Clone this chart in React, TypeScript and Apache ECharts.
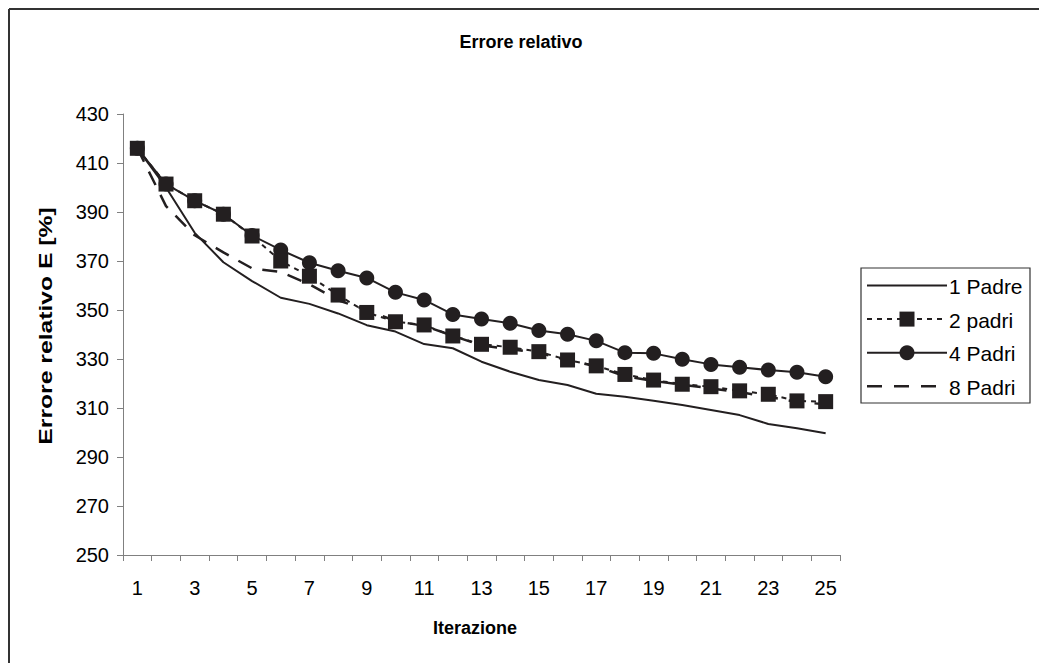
import React, { useEffect, useRef } from "react";
import * as echarts from "echarts";

// Iterations on the x axis
const iterations = Array.from({ length: 25 }, (_, i) => String(i + 1));

// Relative error per iteration, one array per number of parents
const padre1 = [416, 400, 381.5, 369.5, 361.8, 355, 352.5, 348.6, 343.8, 341.2, 336.1, 334.4, 328.9, 324.8, 321.4, 319.4, 315.8, 314.6, 313, 311.2, 309.2, 307.1, 303.5, 301.7, 299.7];
const padri2 = [416, 401.4, 394.6, 389.1, 380.2, 370, 363.8, 356.1, 349, 345.2, 343.9, 339.4, 336, 334.8, 333, 329.6, 327.2, 323.7, 321.4, 319.7, 318.7, 317, 315.6, 312.9, 312.6];
const padri4 = [416, 401.4, 394.6, 389.1, 380.4, 374.5, 369.3, 366, 363.1, 357.2, 354.1, 348.2, 346.3, 344.6, 341.6, 340.1, 337.4, 332.6, 332.3, 329.9, 327.8, 326.6, 325.5, 324.6, 322.8];
const padri8 = [416, 392.4, 380.5, 373.5, 367, 365.5, 360.5, 354, 350, 345.5, 343.5, 339.5, 335.5, 334, 332.5, 329.5, 327, 323, 321, 319.5, 318, 316.5, 314.5, 312.5, 311.5];

const seriesNames = ["1 Padre", "2 padri", "4 Padri", "8 Padri"];

const INK = "#231f20";
const FONT = "Liberation Sans, Arial, sans-serif";

// Legend entries: line dash and marker for each series
const legendStyles: { dash: number[] | null; marker: "none" | "rect" | "circle"; width: number }[] = [
  { dash: null, marker: "none", width: 2 },
  { dash: [5, 5], marker: "rect", width: 2 },
  { dash: null, marker: "circle", width: 2 },
  { dash: [15, 12], marker: "none", width: 2.5 },
];

function buildLegend() {
  const boxX = 861;
  const boxY = 268;
  const lineX1 = 867;
  const lineX2 = 947;
  const markX = 907;
  const elements: any[] = [
    {
      type: "rect",
      shape: { x: boxX, y: boxY, width: 169, height: 135 },
      style: { fill: "#fff", stroke: "#333", lineWidth: 1.2 },
      silent: true,
    },
  ];
  seriesNames.forEach((name, i) => {
    const cy = boxY + 17.5 + i * 33.6;
    const st = legendStyles[i];
    elements.push({
      type: "line",
      shape: { x1: lineX1, y1: cy, x2: lineX2, y2: cy },
      style: { stroke: INK, lineWidth: st.width, lineDash: st.dash || undefined },
      silent: true,
    });
    if (st.marker === "rect") {
      elements.push({
        type: "rect",
        shape: { x: markX - 7.5, y: cy - 7.5, width: 15, height: 15 },
        style: { fill: INK },
        silent: true,
      });
    } else if (st.marker === "circle") {
      elements.push({
        type: "circle",
        shape: { cx: markX, cy, r: 7.5 },
        style: { fill: INK },
        silent: true,
      });
    }
    elements.push({
      type: "text",
      x: lineX2 + 2,
      y: cy + 1,
      style: {
        text: name,
        font: `21px ${FONT}`,
        fill: "#000",
        textAlign: "left",
        textVerticalAlign: "middle",
      },
      silent: true,
    });
  });
  return elements;
}

export default function App() {
  const ref = useRef<HTMLDivElement>(null);

  useEffect(() => {
    if (!ref.current) return;
    document.body.style.margin = "0";
    document.body.style.overflow = "hidden";
    const chart = echarts.init(ref.current, undefined, { renderer: "svg" });

    chart.setOption({
      animation: false,
      backgroundColor: "#ffffff",
      textStyle: { fontFamily: FONT, color: "#000" },
      grid: { left: 123, top: 114, width: 717, height: 441, containLabel: false },
      graphic: [
        {
          type: "line",
          shape: { x1: 9, y1: 9, x2: 9, y2: 700 },
          style: { stroke: "#333", lineWidth: 2 },
          silent: true,
        },
        {
          type: "line",
          shape: { x1: 9, y1: 9, x2: 1039, y2: 9 },
          style: { stroke: "#333", lineWidth: 2 },
          silent: true,
        },
        {
          type: "text",
          x: 521,
          y: 42,
          style: {
            text: "Errore relativo",
            font: `bold 18px ${FONT}`,
            fill: "#000",
            textAlign: "center",
            textVerticalAlign: "middle",
          },
        },
        {
          type: "text",
          x: 475,
          y: 628,
          style: {
            text: "Iterazione",
            font: `bold 18px ${FONT}`,
            fill: "#000",
            textAlign: "center",
            textVerticalAlign: "middle",
          },
        },
        {
          type: "text",
          x: 46,
          y: 326,
          rotation: Math.PI / 2,
          scaleX: 1.3,
          style: {
            text: "Errore relativo E [%]",
            font: `bold 19px ${FONT}`,
            fill: "#000",
            textAlign: "center",
            textVerticalAlign: "middle",
          },
        },
        ...buildLegend(),
      ],
      xAxis: {
        type: "category",
        data: iterations,
        boundaryGap: true,
        axisLine: { lineStyle: { color: "#808080", width: 1 } },
        axisTick: { show: true, alignWithLabel: false, interval: 0, length: 6, lineStyle: { color: "#808080" } },
        axisLabel: { interval: 1, margin: 23, fontSize: 20, fontFamily: FONT, color: "#000" },
        splitLine: { show: false },
      },
      yAxis: {
        type: "value",
        min: 250,
        max: 430,
        interval: 20,
        axisLine: { show: true, lineStyle: { color: "#808080", width: 1 } },
        axisTick: { show: true, length: 6, lineStyle: { color: "#808080" } },
        axisLabel: { margin: 14, fontSize: 20, fontFamily: FONT, color: "#000" },
        splitLine: { show: false },
      },
      series: [
        {
          name: "1 Padre",
          type: "line",
          data: padre1,
          symbol: "none",
          lineStyle: { color: INK, width: 2 },
          itemStyle: { color: INK },
          z: 2,
        },
        {
          name: "8 Padri",
          type: "line",
          data: padri8,
          symbol: "none",
          lineStyle: { color: INK, width: 2.5, type: [15, 11] },
          itemStyle: { color: INK },
          z: 3,
        },
        {
          name: "4 Padri",
          type: "line",
          data: padri4,
          symbol: "circle",
          symbolSize: 15,
          lineStyle: { color: INK, width: 2 },
          itemStyle: { color: INK },
          z: 4,
        },
        {
          name: "2 padri",
          type: "line",
          data: padri2,
          symbol: "rect",
          symbolSize: 15,
          lineStyle: { color: INK, width: 2, type: [5, 5] },
          itemStyle: { color: INK },
          z: 5,
        },
      ],
    });

    return () => chart.dispose();
  }, []);

  return <div ref={ref} style={{ width: 1039, height: 663 }} />;
}
